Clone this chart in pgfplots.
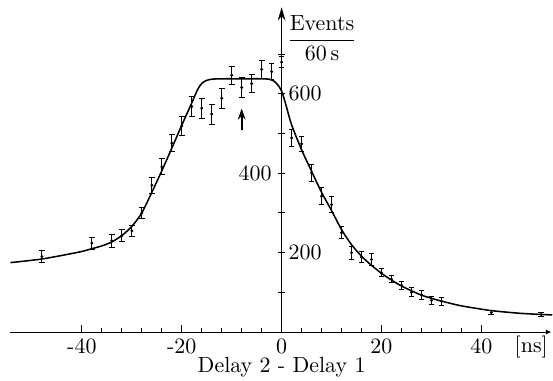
\documentclass[border=0pt]{standalone}
\usepackage{pgfplots}
\pgfplotsset{compat=1.18}
\usetikzlibrary{arrows.meta}

% measured count rates with statistical errors
\pgfplotstableread{
x    y    e
-48  190  16
-38  224  15
-34  230  16
-32  243  15
-30  255  14
-28  300  15
-26  370  20
-24  416  20
-22  476  21
-20  519  24
-18  568  25
-16  564  25
-14  549  25
-12  589  25
-10  647  23
-8   616  25
-6   626  23
-4   662  23
-2   656  20
0    680  14
2    489  22
4    474  19
6    401  21
8    342  21
10   321  21
12   250  15
14   200  16
16   189  15
18   183  16
20   149  10
22   133   9
24   118  10
26   100  11
28    94  11
30    80  10
32    78  10
42    49   6
52    44   6
}\counts

% fitted curve
\pgfplotstableread{
x      y
-54.3  175
-52    178
-48    184
-44    193
-40    203
-38    210
-36    217
-34    227
-32    243
-30    266
-28    300
-26    352
-24    406
-22    463
-20    521
-19    549
-18    577
-17    606
-16.5  618
-16    626
-15.5  631
-15    634
-14    637
-12    638
-8     638
-4     638
-2.5   637
-2     635
-1.5   632
-1     626
-0.5   618
0      607
0.5    588
1      566
2      522
4      459
6      405
8      352
10     306
12     258
14     220
16     191
18     168
20     148
22     131
24     116
26     104
28      93
30      85
32      78
36      66
42      54
48      47
54.2    43
}\fit

\begin{document}
\begin{tikzpicture}
\begin{axis}[
  x=2.2727pt, y=0.18068pt,
  xmin=-54.4, xmax=54, ymin=0, ymax=818,
  axis lines=middle,
  axis line style={line width=0.5pt},
  x axis line style={-{Latex[length=2.5pt,width=2.5pt]}},
  y axis line style={-{Stealth[length=6pt,width=3.5pt]}},
  xtick={-40,-20,0,20,40},
  xticklabels={},
  minor x tick num=4,
  ytick={100,200,...,700},
  yticklabels={},
  tick align=inside,
  major tick length=3.2pt,
  minor tick length=1.7pt,
  ytick style={xshift=-1.6pt},
  tick style={line width=0.45pt, black},
  clip=false,
]
% page frame
\path (axis cs:-56.4,-122) rectangle (axis cs:54.2,836.5);

\addplot[line width=0.7pt, smooth, tension=0.4] table[x=x, y=y] {\fit};

\addplot[only marks, mark=*, mark size=0.45pt,
  error bars/.cd, y dir=both, y explicit,
  error bar style={line width=0.45pt},
  error mark options={rotate=90, mark size=1.3pt, line width=0.45pt}]
  table[x=x, y=y, y error=e] {\counts};

% tick values along both axes
\node[inner sep=0pt] at (axis cs:-40,-36.5) {-40};
\node[inner sep=0pt] at (axis cs:-20,-36.5) {-20};
\node[inner sep=0pt] at (axis cs:0,-36.5) {0};
\node[inner sep=0pt] at (axis cs:20,-36.5) {20};
\node[inner sep=0pt] at (axis cs:40,-36.5) {40};
\node[inner sep=0pt] at (axis cs:50,-37.7) {[ns]};
\node[anchor=west, inner sep=0pt] at (axis cs:1.3,600) {600};
\node[anchor=east, inner sep=0pt] at (axis cs:-1.9,400) {400};
\node[anchor=west, inner sep=0pt] at (axis cs:1.3,200) {200};
\node[inner sep=0pt] at (axis cs:8.1,740) {$\displaystyle\frac{\mathrm{Events}}{60\,\mathrm{s}}$};
\node[inner sep=0pt] at (axis cs:0,-88) {Delay 2 - Delay 1};

% marker for the setting of delay 2
\draw[-{Stealth[length=5pt,width=3.5pt]}, line width=0.9pt]
  (axis cs:-8,508) -- (axis cs:-8,563);
\end{axis}
\end{tikzpicture}
\end{document}
